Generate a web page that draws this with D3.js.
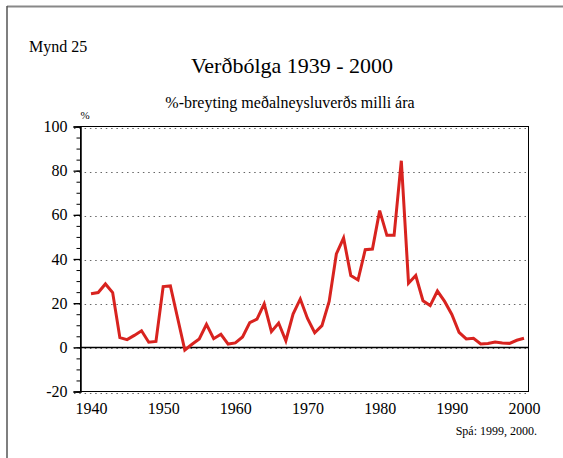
<!DOCTYPE html>
<html>
<head>
  <meta charset="utf-8"/>
  <title>Verðbólga</title>
  <style>
    body { margin: 0; background: #fff; }
    svg text { font-family: "Liberation Serif", "Times New Roman", serif; fill: #000; }
  </style>
</head>
<body>
  <div id="chart"></div>

  <script src="https://d3js.org/d3.v7.min.js"></script>
  <script>

  // data (annual % change of CPI)
  var years = [1940, 1941, 1942, 1943, 1944, 1945, 1946, 1947, 1948, 1949,
               1950, 1951, 1952, 1953, 1954, 1955, 1956, 1957, 1958, 1959,
               1960, 1961, 1962, 1963, 1964, 1965, 1966, 1967, 1968, 1969,
               1970, 1971, 1972, 1973, 1974, 1975, 1976, 1977, 1978, 1979,
               1980, 1981, 1982, 1983, 1984, 1985, 1986, 1987, 1988, 1989,
               1990, 1991, 1992, 1993, 1994, 1995, 1996, 1997, 1998, 1999, 2000];
  var inflation = [24.3, 24.8, 28.7, 24.8, 4.4, 3.5, 5.4, 7.5, 2.3, 2.7,
                   27.5, 27.8, 13.3, -1.2, 1.4, 3.8, 10.4, 3.9, 5.9, 1.5,
                   2.0, 4.7, 11.2, 12.8, 19.7, 7.1, 11.0, 3.0, 15.1, 21.9,
                   13.1, 6.6, 9.8, 20.8, 42.3, 49.5, 32.5, 30.5, 44.2, 44.5,
                   61.9, 50.7, 50.7, 84.5, 29.0, 32.5, 21.1, 18.9, 25.5, 20.8,
                   14.9, 6.8, 3.8, 4.1, 1.5, 1.7, 2.4, 2.0, 1.8, 3.2, 4.1];
  var yTicks = [-20, 0, 20, 40, 60, 80, 100];
  var xTicks = [1940, 1950, 1960, 1970, 1980, 1990, 2000];

  var W = 563, H = 458;
  var plotLeft = 80.5, plotRight = 528.5, plotTop = 126.5, plotBottom = 391.5;
  var serif = "'Liberation Serif', 'Times New Roman', serif";

  // plain hyphen for negatives, like the original
  function fmt(d){ return String(d); }

  var svg = d3.select("#chart").append("svg")
    .attr("width", W)
    .attr("height", H);

  // page frame (top and left edge)
  svg.append("line").attr("x1", 7).attr("x2", W).attr("y1", 6.5).attr("y2", 6.5)
    .attr("stroke", "#888").attr("stroke-width", 2);
  svg.append("line").attr("x1", 7).attr("x2", 7).attr("y1", 6).attr("y2", H)
    .attr("stroke", "#555").attr("stroke-width", 1.5);

  var x = d3.scaleLinear().domain([1940, 2000]).range([91, 524]);
  var y = d3.scaleLinear().domain([-20, 100]).range([plotBottom, plotTop]);

  // titles
  svg.append("text").attr("x", 29).attr("y", 52)
    .style("font-size", "16px").text("Mynd 25");
  svg.append("text").attr("x", 292).attr("y", 73).attr("text-anchor", "middle")
    .style("font-size", "22px").text("Verðbólga 1939 - 2000");
  svg.append("text").attr("x", 290).attr("y", 108).attr("text-anchor", "middle")
    .style("font-size", "16px").text("%-breyting meðalneysluverðs milli ára");
  svg.append("text").attr("x", 85).attr("y", 119).attr("text-anchor", "middle")
    .style("font-size", "11px").text("%");

  // dotted gridlines
  svg.append("g").selectAll("line")
    .data(yTicks)
    .enter().append("line")
    .attr("x1", 74).attr("x2", plotRight - 2)
    .attr("y1", function(d){ return Math.round(y(d)) + 1.5; })
    .attr("y2", function(d){ return Math.round(y(d)) + 1.5; })
    .attr("stroke", "#666")
    .attr("stroke-dasharray", "1.5,3.8");

  // plot box
  svg.append("rect")
    .attr("x", plotLeft).attr("y", plotTop)
    .attr("width", plotRight - plotLeft).attr("height", plotBottom - plotTop)
    .attr("fill", "none").attr("stroke", "#000").attr("stroke-width", 1);

  // zero line
  svg.append("line")
    .attr("x1", plotLeft).attr("x2", plotRight)
    .attr("y1", Math.round(y(0)) + 0.5).attr("y2", Math.round(y(0)) + 0.5)
    .attr("stroke", "#000").attr("stroke-width", 1.5);

  // y axis with minor ticks every 5
  var yAxis = d3.axisLeft(y)
    .tickValues(yTicks)
    .tickSize(7)
    .tickPadding(6)
    .tickFormat(fmt);
  var gy = svg.append("g")
    .attr("transform", "translate(" + plotLeft + ",0)")
    .call(yAxis)
    .attr("font-family", serif)
    .attr("font-size", 16);
  gy.select(".domain").attr("stroke", "#000").attr("stroke-width", 1.5);
  gy.selectAll(".tick line").attr("stroke-width", 1.3);
  gy.selectAll("text")
    .style("font-size", "16px")
    .style("font-family", serif)
    .attr("fill", "#000");

  svg.append("g")
    .attr("transform", "translate(" + plotLeft + ",0)")
    .call(d3.axisLeft(y).ticks(24).tickSize(4).tickFormat(""))
    .call(function(g){ g.select(".domain").remove(); });

  // x axis labels only
  var gx = svg.append("g")
    .attr("transform", "translate(0," + plotBottom + ")")
    .call(d3.axisBottom(x).tickValues(xTicks).tickSize(0).tickPadding(11).tickFormat(fmt))
    .attr("font-family", serif)
    .attr("font-size", 16);
  gx.select(".domain").remove();
  gx.selectAll("text")
    .style("font-size", "16px")
    .style("font-family", serif)
    .attr("fill", "#000");

  // inflation line
  var line = d3.line()
    .x(function(d, i){ return x(years[i]); })
    .y(function(d){ return y(d); });

  svg.append("path")
    .datum(inflation)
    .attr("d", line)
    .attr("fill", "none")
    .attr("stroke", "#d8231f")
    .attr("stroke-width", 3)
    .attr("stroke-linejoin", "miter");

  // footnote
  svg.append("text").attr("x", 537).attr("y", 435).attr("text-anchor", "end")
    .style("font-size", "12px").text("Spá: 1999, 2000.");

  </script>
</body>
</html>
